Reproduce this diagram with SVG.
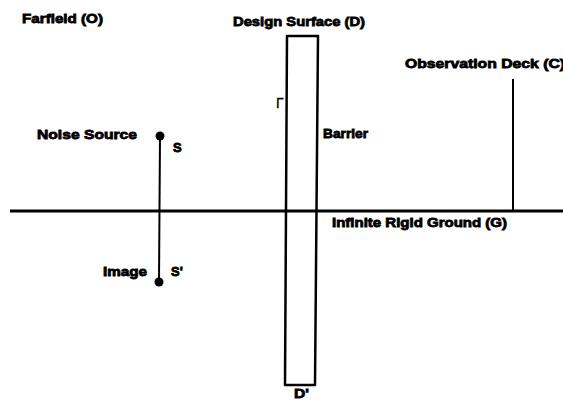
<svg xmlns="http://www.w3.org/2000/svg" width="563" height="400" viewBox="0 0 563 400">
<style>
.t{font-family:"Liberation Sans",Arial,sans-serif;font-weight:bold;font-size:13px;fill:#000;stroke:#000;stroke-width:0.8}
.ln{stroke:#000;fill:none}
</style>
<rect width="563" height="400" fill="#fff"/>
<g id="connectors">
<line class="ln" x1="10" y1="211" x2="563" y2="211" stroke-width="3"/>
<line class="ln" x1="160" y1="136" x2="159" y2="282" stroke-width="2"/>
<line class="ln" x1="513" y1="79" x2="513" y2="211" stroke-width="2"/>
</g>
<g id="barrier">
<path class="ln" d="M287,36 L318,36 L315,385 L285,385 Z" stroke-width="2.5" stroke-linejoin="round"/>
<text class="t" x="323" y="138" textLength="45" lengthAdjust="spacingAndGlyphs">Barrier</text>
<text x="276" y="108" font-family="Liberation Sans,Arial,sans-serif" font-size="14" fill="#000" stroke="#000" stroke-width="0.3">Γ</text>
</g>
<g id="design-surface">
<text class="t" x="233" y="26" textLength="132" lengthAdjust="spacingAndGlyphs">Design Surface (D)</text>
<text class="t" x="294" y="398" textLength="15" lengthAdjust="spacingAndGlyphs">D'</text>
</g>
<g id="farfield">
<text class="t" x="22" y="23" textLength="81" lengthAdjust="spacingAndGlyphs">Farfield (O)</text>
</g>
<g id="observation-deck">
<text class="t" x="405" y="68" textLength="160" lengthAdjust="spacingAndGlyphs">Observation Deck (C)</text>
</g>
<g id="noise-source">
<circle cx="160" cy="136" r="4.5" fill="#000"/>
<text class="t" x="37" y="139" textLength="100" lengthAdjust="spacingAndGlyphs">Noise Source</text>
<text class="t" x="173" y="152" font-size="14">S</text>
</g>
<g id="image">
<circle cx="159" cy="282" r="4.5" fill="#000"/>
<text class="t" x="103" y="276" textLength="44" lengthAdjust="spacingAndGlyphs">Image</text>
<text class="t" x="171" y="276" font-size="14">S'</text>
</g>
<g id="ground">
<text class="t" x="332" y="227" textLength="175" lengthAdjust="spacingAndGlyphs">Infinite Rigid Ground (G)</text>
</g>
</svg>
